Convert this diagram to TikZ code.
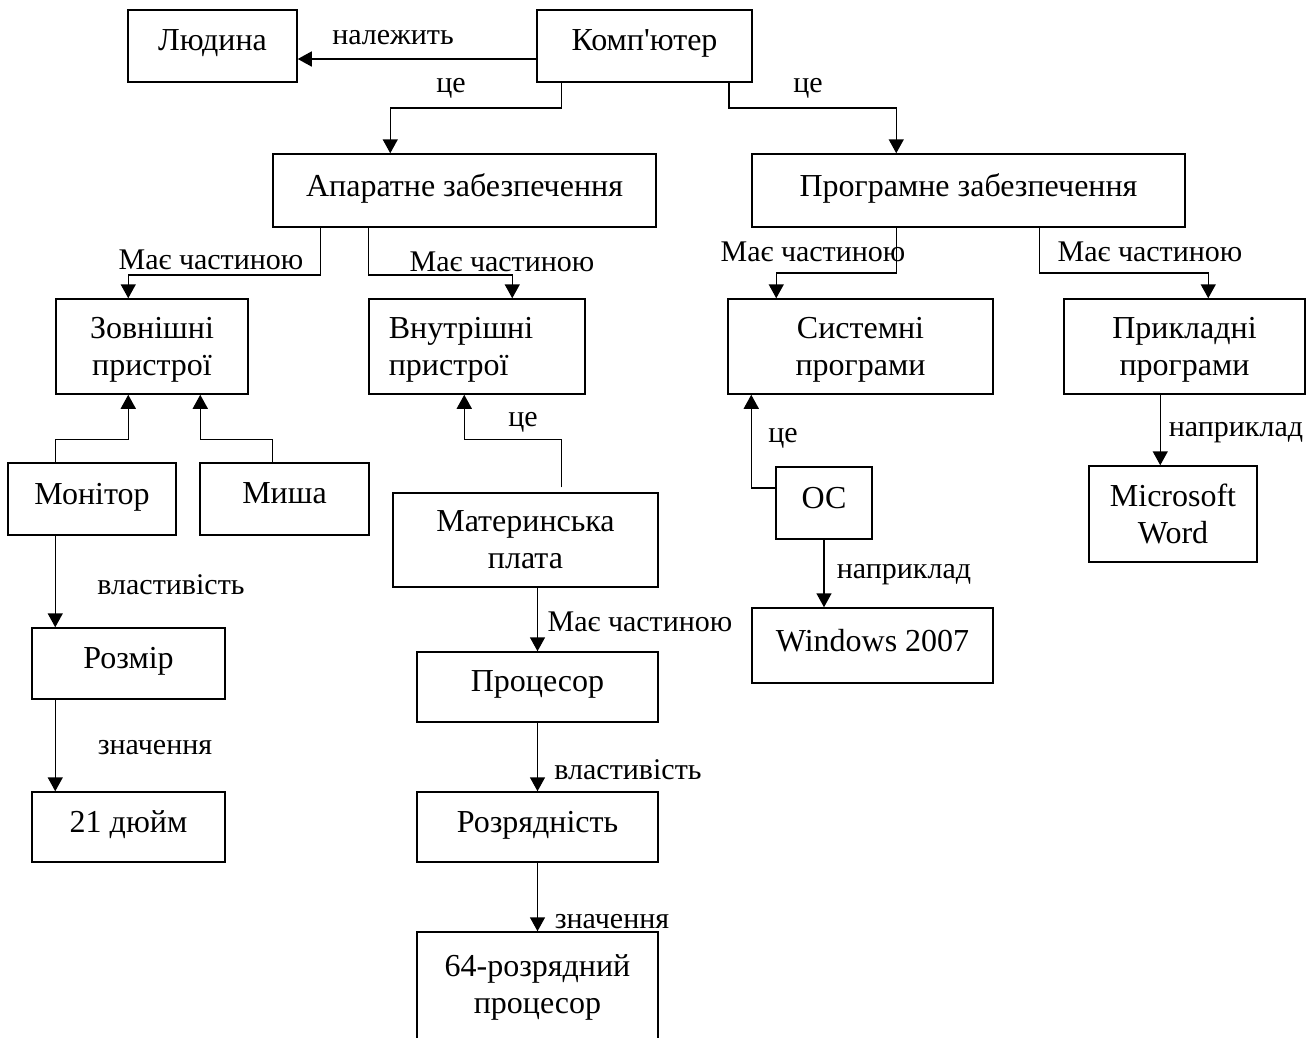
\documentclass[tikz,border=0pt]{standalone}
\usepackage{fontspec}
\setmainfont[Ligatures=TeXOff]{Liberation Serif}
\usetikzlibrary{calc,arrows.meta}
\begin{document}
\begin{tikzpicture}[x=1pt,y=-1pt,
  box/.style 2 args={draw,line width=1.5pt,minimum width=#1pt,minimum height=#2pt,inner sep=0pt,align=center,font=\fontsize{32}{37}\selectfont,text depth=11pt},
  box2/.style 2 args={box={#1}{#2},text depth=0pt},
  lbl/.style={inner sep=0pt,font=\fontsize{30}{34}\selectfont},
  arr/.style={line width=1.5pt,-{Triangle[length=14pt,width=15pt]}}]
\useasboundingbox (0,0) rectangle (1311,1037);
\clip (0,0) rectangle (1311,1037);
\fill[white] (0,0) rectangle (1311,1037);
\node[box={169}{72}] (lyud) at (212.5,46) {Людина};
\node[box={215}{72}] (komp) at (644.5,46) {Комп'ютер};
\node[box={383}{73}] (apar) at (464.5,190.5) {Апаратне забезпечення};
\node[box={433}{73}] (prog) at (968.5,190.5) {Програмне забезпечення};
\node[box2={192}{95}] (zovn) at (152,346.5) {Зовнішні\\пристрої};
\node[box2={216}{95},align=left] (vnut) at (477,346.5) {Внутрішні\hspace*{32pt}\\пристрої};
\node[box2={265}{95}] (syst) at (860.5,346.5) {Системні\\програми};
\node[box2={241}{95}] (prykl) at (1184.5,346.5) {Прикладні\\програми};
\node[box={168}{72}] (monit) at (92,499) {Монітор};
\node[box={169}{72}] (mysha) at (284.5,499) {Миша};
\node[box2={265}{94}] (mater) at (525.5,540) {Материнська\\плата};
\node[box={96}{72}] (os) at (824,503) {ОС};
\node[box2={168}{96}] (msw) at (1173,514) {Microsoft\\Word};
\node[box={241}{75}] (win) at (872.5,645.5) {Windows 2007};
\node[box={193}{71}] (rozmir) at (128.5,663.5) {Розмір};
\node[box={193}{70}] (dyuim) at (128.5,827) {21 дюйм};
\node[box={241}{70}] (proc) at (537.5,687) {Процесор};
\node[box={241}{70}] (rozr) at (537.5,827) {Розрядність};
\node[box={241}{140},text depth=0pt] (b64) at (537.5,1002) {};
\node[align=center,inner sep=0pt,text depth=0pt,font=\fontsize{32}{37}\selectfont] (b64t) at (537.5,984) {64-розрядний\\процесор};
% connectors
\draw[arr] ($(komp.west)+(0,13)$) -- ($(lyud.east)+(0,13)$);
\draw[arr] ($(komp.south west)+(25,0)$) -- ++(0,25) -| ($(apar.north west)+(118,0)$);
\draw[arr] ($(komp.south east)+(-24,0)$) -- ++(0,25) -| ($(prog.north west)+(145,0)$);
\draw[arr] ($(apar.south west)+(48,0)$) -- ++(0,47) -| ($(zovn.north west)+(73,0)$);
\draw[arr] ($(apar.south west)+(96,0)$) -- ++(0,47) -| ($(vnut.north west)+(144,0)$);
\draw[arr] ($(prog.south west)+(145,0)$) -- ++(0,45) -| ($(syst.north west)+(49,0)$);
\draw[arr] ($(prog.south west)+(288,0)$) -- ++(0,45) -| ($(prykl.north west)+(145,0)$);
\draw[arr] ($(monit.north west)+(48,0)$) -- ++(0,-23) -| ($(zovn.south west)+(73,0)$);
\draw[arr] ($(mysha.north west)+(73,0)$) -- ++(0,-23) -| ($(zovn.south west)+(145,0)$);
\draw[arr] ($(mater.north west)+(169,-5)$) -- ++(0,-48) -| ($(vnut.south west)+(96,0)$);
\draw[arr] ($(os.west)+(0,-15)$) -| ($(syst.south west)+(24,0)$);
\draw[arr] ($(prykl.south west)+(97,0)$) -- ($(msw.north west)+(72,0)$);
\draw[arr] (os.south) -- (os.south |- win.north);
\draw[arr] ($(monit.south west)+(48,0)$) -- ($(rozmir.north west)+(24,0)$);
\draw[arr] ($(rozmir.south west)+(24,0)$) -- ($(dyuim.north west)+(24,0)$);
\draw[arr] (proc.north |- mater.south) -- (proc.north);
\draw[arr] (proc.south) -- (rozr.north);
\draw[arr] (rozr.south) -- (b64.north);
% labels
\node[lbl] (l1) at (393,38) {належить};
\node[lbl] (l2) at (451,88) {це};
\node[lbl] (l3) at (808,88) {це};
\node[lbl] (l4) at (211,260) {Має частиною};
\node[lbl] (l5) at (502,262) {Має частиною};
\node[lbl] (l6) at (813,252) {Має частиною};
\node[lbl] (l7) at (1150,252) {Має частиною};
\node[lbl] (l8) at (523,422) {це};
\node[lbl] (l9) at (783,438) {це};
\node[lbl] (l10) at (1236,433) {наприклад};
\node[lbl] (l11) at (904,575) {наприклад};
\node[lbl] (l12) at (171,585) {властивість};
\node[lbl] (l13) at (628,770) {властивість};
\node[lbl] (l14) at (155,748) {значення};
\node[lbl] (l15) at (612,922) {значення};
\node[lbl] (l16) at (640,622) {Має частиною};
\end{tikzpicture}
\end{document}
